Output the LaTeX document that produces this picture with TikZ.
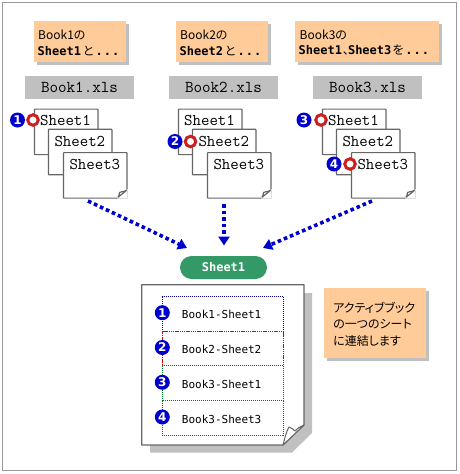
\documentclass[tikz,border=0pt]{standalone}
\usepackage{fontspec}
\usetikzlibrary{arrows.meta}
\setmainfont{Liberation Sans}
\newfontfamily\jpf[RawFeature={+palt}]{Noto Sans CJK JP}
\newfontfamily\rowf{DejaVu Sans Mono}
\newfontfamily\bmonof{DejaVu Sans Mono}[BoldFont={DejaVu Sans Mono Bold}]
\newfontfamily\numf{DejaVu Sans}[BoldFont={DejaVu Sans Bold}]
\definecolor{noteor}{HTML}{FFCC99}
\definecolor{shad}{HTML}{C0C0C0}
\definecolor{sheetline}{HTML}{666666}
\definecolor{bluec}{HTML}{0000CC}
\definecolor{ringred}{HTML}{CC1F1F}
\definecolor{pillg}{HTML}{339966}
\definecolor{rowblue}{HTML}{000099}
\definecolor{rowred}{HTML}{E00000}
\definecolor{rowgreen}{HTML}{007722}
\tikzset{
  x=1pt,y=-1pt,
  notetext/.style={anchor=west,inner sep=0pt,font=\jpf\fontsize{12}{12}\selectfont},
  greybox/.style={fill=shad,minimum width=109pt,minimum height=23pt,inner sep=0pt,
    font=\ttfamily\fontsize{16.6}{16}\selectfont},
  sheetbox/.style={draw=sheetline,line width=1.2pt,fill=white,rounded corners=0.6pt,
    minimum width=63.5pt,minimum height=45.5pt,inner sep=0pt,anchor=north west},
  sheetlabel/.style={anchor=west,inner sep=0pt,font=\ttfamily\fontsize{16.4}{16}\selectfont},
  numdot/.style={circle,fill=bluec,text=white,minimum size=15pt,inner sep=0pt,
    font=\numf\bfseries\fontsize{12}{12}\selectfont},
  ring/.style={circle,draw=ringred,line width=3pt,fill=white,minimum size=10.5pt,inner sep=0pt},
  flowarrow/.style={draw=bluec,line width=3.6pt,dash pattern=on 3.6pt off 3pt,
    -{Triangle[width=11pt,length=9pt]}},
  rowtext/.style={anchor=west,inner sep=0pt,font=\rowf\fontsize{11}{11}\selectfont},
  rowline/.style={line width=1pt,dash pattern=on 1pt off 1pt},
  rowlinered/.style={line width=1.1pt,dash pattern=on 1.4pt off 0.8pt,draw=rowred},
}
\newcommand{\bm}[1]{{\bmonof\bfseries\fontsize{12}{12}\selectfont #1}}
\newcommand{\dotsm}{\bm{.}\kern1pt\bm{.}\kern1pt\bm{.}}
\newcommand{\notecard}[4]{%
  \fill[shad] (#1+2.5,#2+2.5) rectangle (#3+2.5,#4+2.5);
  \fill[noteor] (#1,#2) rectangle (#3,#4);
}
\begin{document}
\begin{tikzpicture}
\useasboundingbox (0,0) rectangle (460,474);
\fill[white] (0,0) rectangle (460,474);
\draw[draw=black!40,line width=1pt] (2.7,2.7) rectangle (456.7,470.7);

% notes
\notecard{34}{21}{126}{62}
\notecard{176}{21}{268}{62}
\notecard{295}{21}{439}{62}
\node[notetext] (n1a) at (38,34.5) {Book1の};
\node[notetext] (n1b) at (37.5,50.5) {\bm{Sheet1}\kern2pt と\kern2pt\dotsm};
\node[notetext] (n2a) at (180,34.5) {Book2の};
\node[notetext] (n2b) at (179.5,50.5) {\bm{Sheet2}\kern2pt と\kern2pt\dotsm};
\node[notetext] (n3a) at (299.5,34.5) {Book3の};
\node[notetext] (n3b) at (298.5,50.5) {\bm{Sheet1}\kern1pt、\kern-1pt\bm{Sheet3}\kern1pt を\kern2pt\dotsm};

% file names
\node[greybox] (b1) at (79.5,87.5) {Book1.xls};
\node[greybox] (b2) at (223.5,87.5) {Book2.xls};
\node[greybox] (b3) at (367.5,87.5) {Book3.xls};

% sheets
\foreach \dx/\k in {0/a,144/b,288/c}{
  \node[sheetbox] (s1\k) at (33.8+\dx,108.5) {};
  \node[sheetbox] (s2\k) at (47.8+\dx,128.7) {};
  \node[sheetbox] (s3\k) at (62.8+\dx,152) {};
  \fill[white] (117+\dx,198.5) -- (127.5+\dx,198.5) -- (127.5+\dx,189) -- cycle;
  \draw[sheetline,line width=1.2pt,line join=round,fill=white]
    (118+\dx,197.3) -- (126.3+\dx,190.5) .. controls (123+\dx,192) and (120+\dx,191.5) .. (119.5+\dx,192.5) .. controls (119.5+\dx,194) and (119+\dx,196) .. (118+\dx,197.3);
  \node[sheetlabel] (t1\k) at (40+\dx,120.5) {Sheet1};
  \node[sheetlabel] (t2\k) at (54.3+\dx,141) {Sheet2};
  \node[sheetlabel] (t3\k) at (69.3+\dx,164) {Sheet3};
}

% markers
\node[numdot] (m1) at (17.5,120) {1};
\node[ring] (r1) at (33,120) {};
\node[numdot] (m2) at (175,141.5) {2};
\node[ring] (r2) at (190.5,141.5) {};
\node[numdot] (m3) at (304,120) {3};
\node[ring] (r3) at (321,120) {};
\node[numdot] (m4) at (334,164) {4};
\node[ring] (r4) at (350,164) {};

% pill
\node[fill=pillg,rounded corners=11.5pt,minimum width=87pt,minimum height=23pt,inner sep=0pt,
  text=white,font=\bmonof\bfseries\fontsize{12}{12}\selectfont] (pill) at (223.5,267.5) {Sheet1};

% arrows
\coordinate (a1s) at (88,201);
\coordinate (a1e) at (187,248);
\coordinate (a2s) at (224,204);
\coordinate (a2e) at (224,245.5);
\coordinate (a3s) at (372,201);
\coordinate (a3e) at (263,248);
\draw[flowarrow] (a1s) -- (a1e);
\draw[flowarrow] (a2s) -- (a2e);
\draw[flowarrow] (a3s) -- (a3e);

% big page
\fill[shad] (150,293) -- (312,293) -- (312,433) -- (292,452.5) -- (150,452.5) -- cycle;
\draw[sheetline,line width=1.2pt,fill=white,line join=round]
  (141.7,284.7) -- (304,284.7) -- (304,425) -- (283,445) -- (141.7,445) -- cycle;

% rows
\draw[rowline,draw=rowblue] (162.5,331.5) -- (162.5,296.5) -- (283.5,296.5) -- (283.5,331.5);
\draw[rowline,draw=rowgreen] (162.5,400.5) -- (162.5,365.5) -- (283.5,365.5) -- (283.5,400.5);
\draw[rowline,draw=rowgreen] (162.5,400.5) -- (283.5,400.5);
\draw[rowline,draw=rowgreen] (162.5,400.5) -- (162.5,435.5) -- (283.5,435.5) -- (283.5,400.5);
\draw[rowlinered] (162.5,365) -- (162.5,331.5) -- (283.5,331.5) -- (283.5,365);

% fold of big page
\draw[sheetline,line width=1pt,fill=white,line join=round]
  (283,445) .. controls (285,437) and (287,430) .. (289,427) .. controls (292,428) and (293,429) .. (295,431) .. controls (297,428) and (300,427) .. (304,425) -- cycle;

\node[numdot] (l1) at (162.3,312.7) {1};
\node[numdot] (l2) at (162.3,347.5) {2};
\node[numdot] (l3) at (162.3,382.3) {3};
\node[numdot] (l4) at (162.3,417) {4};
\node[rowtext] (x1) at (181.7,314.7) {Book1-Sheet1};
\node[rowtext] (x2) at (181.7,349.5) {Book2-Sheet2};
\node[rowtext] (x3) at (181.7,384) {Book3-Sheet1};
\node[rowtext] (x4) at (181.7,419) {Book3-Sheet3};

% active book note
\notecard{324}{288}{426}{358}
\node[notetext] (c1) at (333,307.7) {アクティブブック};
\node[notetext] (c2) at (333,324.5) {の一つのシート};
\node[notetext] (c3) at (333,340.7) {に連結します};
\end{tikzpicture}
\end{document}
